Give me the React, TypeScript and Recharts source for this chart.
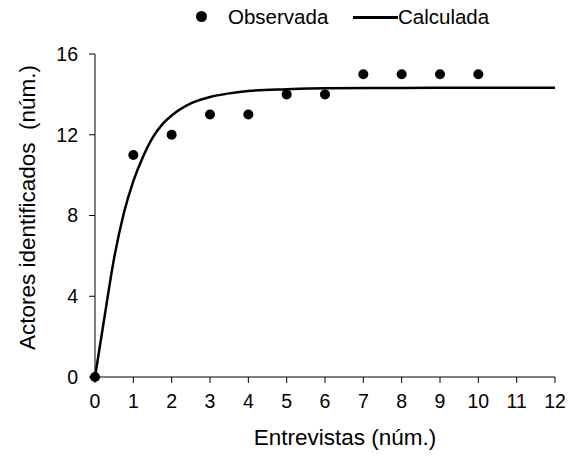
import { ComposedChart, Scatter, Line, XAxis, YAxis, Label } from "recharts";

const observedX = [0, 1, 2, 3, 4, 5, 6, 7, 8, 9, 10];
const observedY = [0, 11, 12, 13, 13, 14, 14, 15, 15, 15, 15];

const calcX = [0, 0.25, 0.5, 0.75, 1, 1.25, 1.5, 1.75, 2, 2.5, 3, 3.5, 4, 5, 6, 8, 10, 12];
const calcY = [0, 3.0, 5.9, 8.1, 9.7, 10.9, 11.85, 12.5, 12.95, 13.55, 13.87, 14.05, 14.17, 14.25, 14.3, 14.32, 14.33, 14.33];

const xTicks = [0, 1, 2, 3, 4, 5, 6, 7, 8, 9, 10, 11, 12];
const yTicks = [0, 4, 8, 12, 16];

const observed = observedX.map((x, i) => ({ x, y: observedY[i] }));
const calculated = calcX.map((x, i) => ({ x, y: calcY[i] }));

const FONT = "'Liberation Sans', Arial, sans-serif";

function YTitle(props: any) {
  const vb = props.viewBox;
  const cx = vb.x + 27;
  const cy = vb.y + vb.height / 2 - 8;
  return (
    <text
      x={cx}
      y={cy}
      transform={`rotate(-90 ${cx} ${cy})`}
      textAnchor="middle"
      dominantBaseline="central"
      fontSize={22.5}
      fontFamily={FONT}
      fill="#000"
    >
      {"Actores identificados\u00a0 (núm.)"}
    </text>
  );
}

function XTitle(props: any) {
  const vb = props.viewBox;
  const cx = vb.x + vb.width / 2 + 20;
  const cy = vb.y + 60;
  return (
    <text x={cx} y={cy} textAnchor="middle" dominantBaseline="central" fontSize={22.5} fontFamily={FONT} fill="#000">
      Entrevistas (núm.)
    </text>
  );
}

export default function App() {
  return (
    <div style={{ position: "absolute", left: 0, top: 0, width: 568, height: 467, background: "#fff", fontFamily: FONT }}>
      <div style={{ position: "absolute", top: 4, left: 0, width: 568, height: 26, fontSize: 20.5, color: "#000" }}>
        <span style={{ position: "absolute", left: 196, top: 7, width: 11, height: 11, borderRadius: 6, background: "#000" }} />
        <span style={{ position: "absolute", left: 228, top: 0, lineHeight: "26px" }}>Observada</span>
        <span style={{ position: "absolute", left: 353, top: 12, width: 45, height: 2.5, background: "#000" }} />
        <span style={{ position: "absolute", left: 398, top: 0, lineHeight: "26px" }}>Calculada</span>
      </div>
      <ComposedChart width={568} height={467} margin={{ top: 54, right: 13, bottom: 0, left: 0 }}>
        <XAxis
          dataKey="x"
          type="number"
          domain={[0, 12]}
          ticks={xTicks}
          interval={0}
          height={90}
          tickSize={6}
          tickMargin={11}
          stroke="#000"
          tick={{ fill: "#000", fontSize: 19.5, fontFamily: FONT }}
          allowDuplicatedCategory={false}
        >
          <Label content={XTitle} />
        </XAxis>
        <YAxis
          dataKey="y"
          type="number"
          domain={[0, 16]}
          ticks={yTicks}
          interval={0}
          width={95}
          tickSize={6}
          tickMargin={11}
          stroke="#000"
          tick={{ fill: "#000", fontSize: 19.5, fontFamily: FONT }}
        >
          <Label content={YTitle} />
        </YAxis>
        <Line
          data={calculated}
          dataKey="y"
          type="monotone"
          stroke="#000"
          strokeWidth={2.5}
          dot={false}
          activeDot={false}
          isAnimationActive={false}
        />
        <Scatter
          data={observed}
          dataKey="y"
          fill="#000"
          shape={(p: any) => <circle cx={p.cx} cy={p.cy} r={5} fill="#000" />}
          isAnimationActive={false}
        />
      </ComposedChart>
    </div>
  );
}
